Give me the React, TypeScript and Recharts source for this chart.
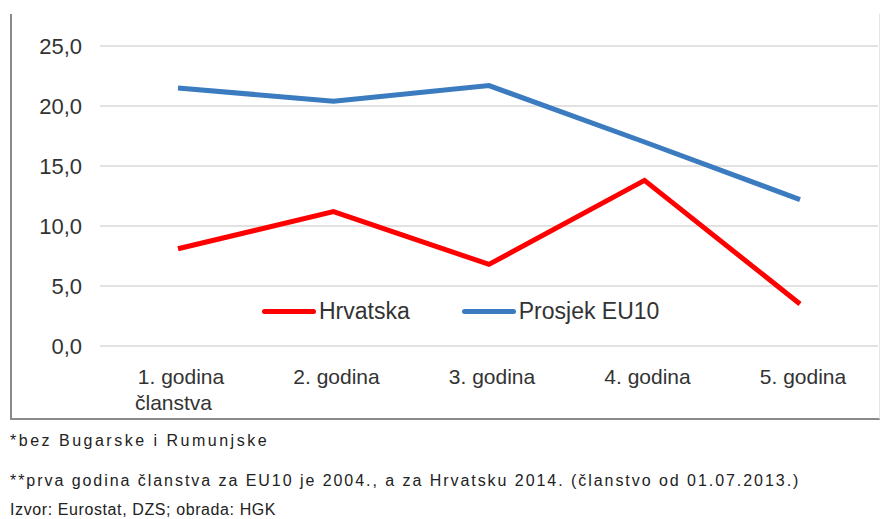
import React from 'react';
import { LineChart, Line, XAxis, YAxis, CartesianGrid } from 'recharts';

const categories = ['1. godina|članstva', '2. godina', '3. godina', '4. godina', '5. godina'];
const hrvatska = [8.1, 11.2, 6.8, 13.8, 3.5];
const prosjekEU10 = [21.5, 20.4, 21.7, 17.0, 12.2];
const yTicks = [0, 5, 10, 15, 20, 25];
const footnotes = [
  '*bez Bugarske i Rumunjske',
  '**prva godina članstva za EU10 je 2004., a za Hrvatsku 2014. (članstvo od 01.07.2013.)',
  'Izvor: Eurostat, DZS; obrada: HGK',
];
const footnoteTops = [426, 466, 495];
const footnoteSpacing = [2.5, 1.95, 0.6];

const data = categories.map((c, i) => ({ cat: c, hr: hrvatska[i], eu: prosjekEU10[i] }));

const RED = '#ff0000';
const BLUE = '#3b7bbf';
const FONT = '"Liberation Sans", Arial, sans-serif';

const XTick = (props: any) => {
  const { x, y, payload } = props;
  const lines = String(payload.value).split('|');
  return (
    <g>
      <text x={x + 3} y={y + 30} textAnchor="middle" fill="#333" fontSize={21} fontFamily={FONT}>
        {lines[0]}
      </text>
      {lines[1] && (
        <text x={x - 43} y={y + 56} textAnchor="start" fill="#333" fontSize={21} fontFamily={FONT}>
          {lines[1]}
        </text>
      )}
    </g>
  );
};

const LegendItem = ({ color, label }: { color: string; label: string }) => (
  <div style={{ display: 'flex', alignItems: 'center', marginRight: 52 }}>
    <div style={{ width: 54, height: 5, borderRadius: 3, background: color }} />
    <span style={{ marginLeft: 3, fontSize: 23, color: '#333' }}>{label}</span>
  </div>
);

export default function App() {
  return (
    <div style={{ position: 'absolute', left: 0, top: 0, width: 881, height: 519, background: '#fff', fontFamily: FONT }}>
      <div
        style={{
          position: 'absolute', left: 10, top: 14, width: 867, height: 404,
          borderLeft: '2px solid #8a8a8a', borderBottom: '2px solid #8a8a8a', borderRight: '1px solid #e6e6e6',
        }}
      />
      <div style={{ position: 'absolute', left: 0, top: 0 }}>
        <LineChart width={881} height={420} data={data} margin={{ top: 46, right: 3, bottom: 14, left: 10 }}>
          <CartesianGrid vertical={false} stroke="#d9d9d9" strokeWidth={1.5} />
          <XAxis
            dataKey="cat"
            axisLine={false}
            tickLine={false}
            tick={<XTick />}
            height={60}
            interval={0}
            padding={{ left: 78, right: 78 }}
          />
          <YAxis
            domain={[0, 25]}
            ticks={yTicks}
            width={90}
            axisLine={false}
            tickLine={false}
            tickMargin={12}
            tickFormatter={(v: number) => v.toFixed(1).replace('.', ',')}
            tick={{ fill: '#333', fontSize: 22, fontFamily: FONT }}
          />
          <Line dataKey="eu" stroke={BLUE} strokeWidth={5} dot={false} isAnimationActive={false} />
          <Line dataKey="hr" stroke={RED} strokeWidth={5} dot={false} isAnimationActive={false} />
        </LineChart>
      </div>
      <div style={{ position: 'absolute', left: 262, top: 298, display: 'flex' }}>
        <LegendItem color={RED} label="Hrvatska" />
        <LegendItem color={BLUE} label="Prosjek EU10" />
      </div>
      {footnotes.map((f, i) => (
        <div
          key={f}
          style={{
            position: 'absolute', left: 10, top: footnoteTops[i], fontSize: 16, letterSpacing: footnoteSpacing[i],
            color: '#222', lineHeight: '30px', whiteSpace: 'nowrap',
          }}
        >
          {f}
        </div>
      ))}
    </div>
  );
}
